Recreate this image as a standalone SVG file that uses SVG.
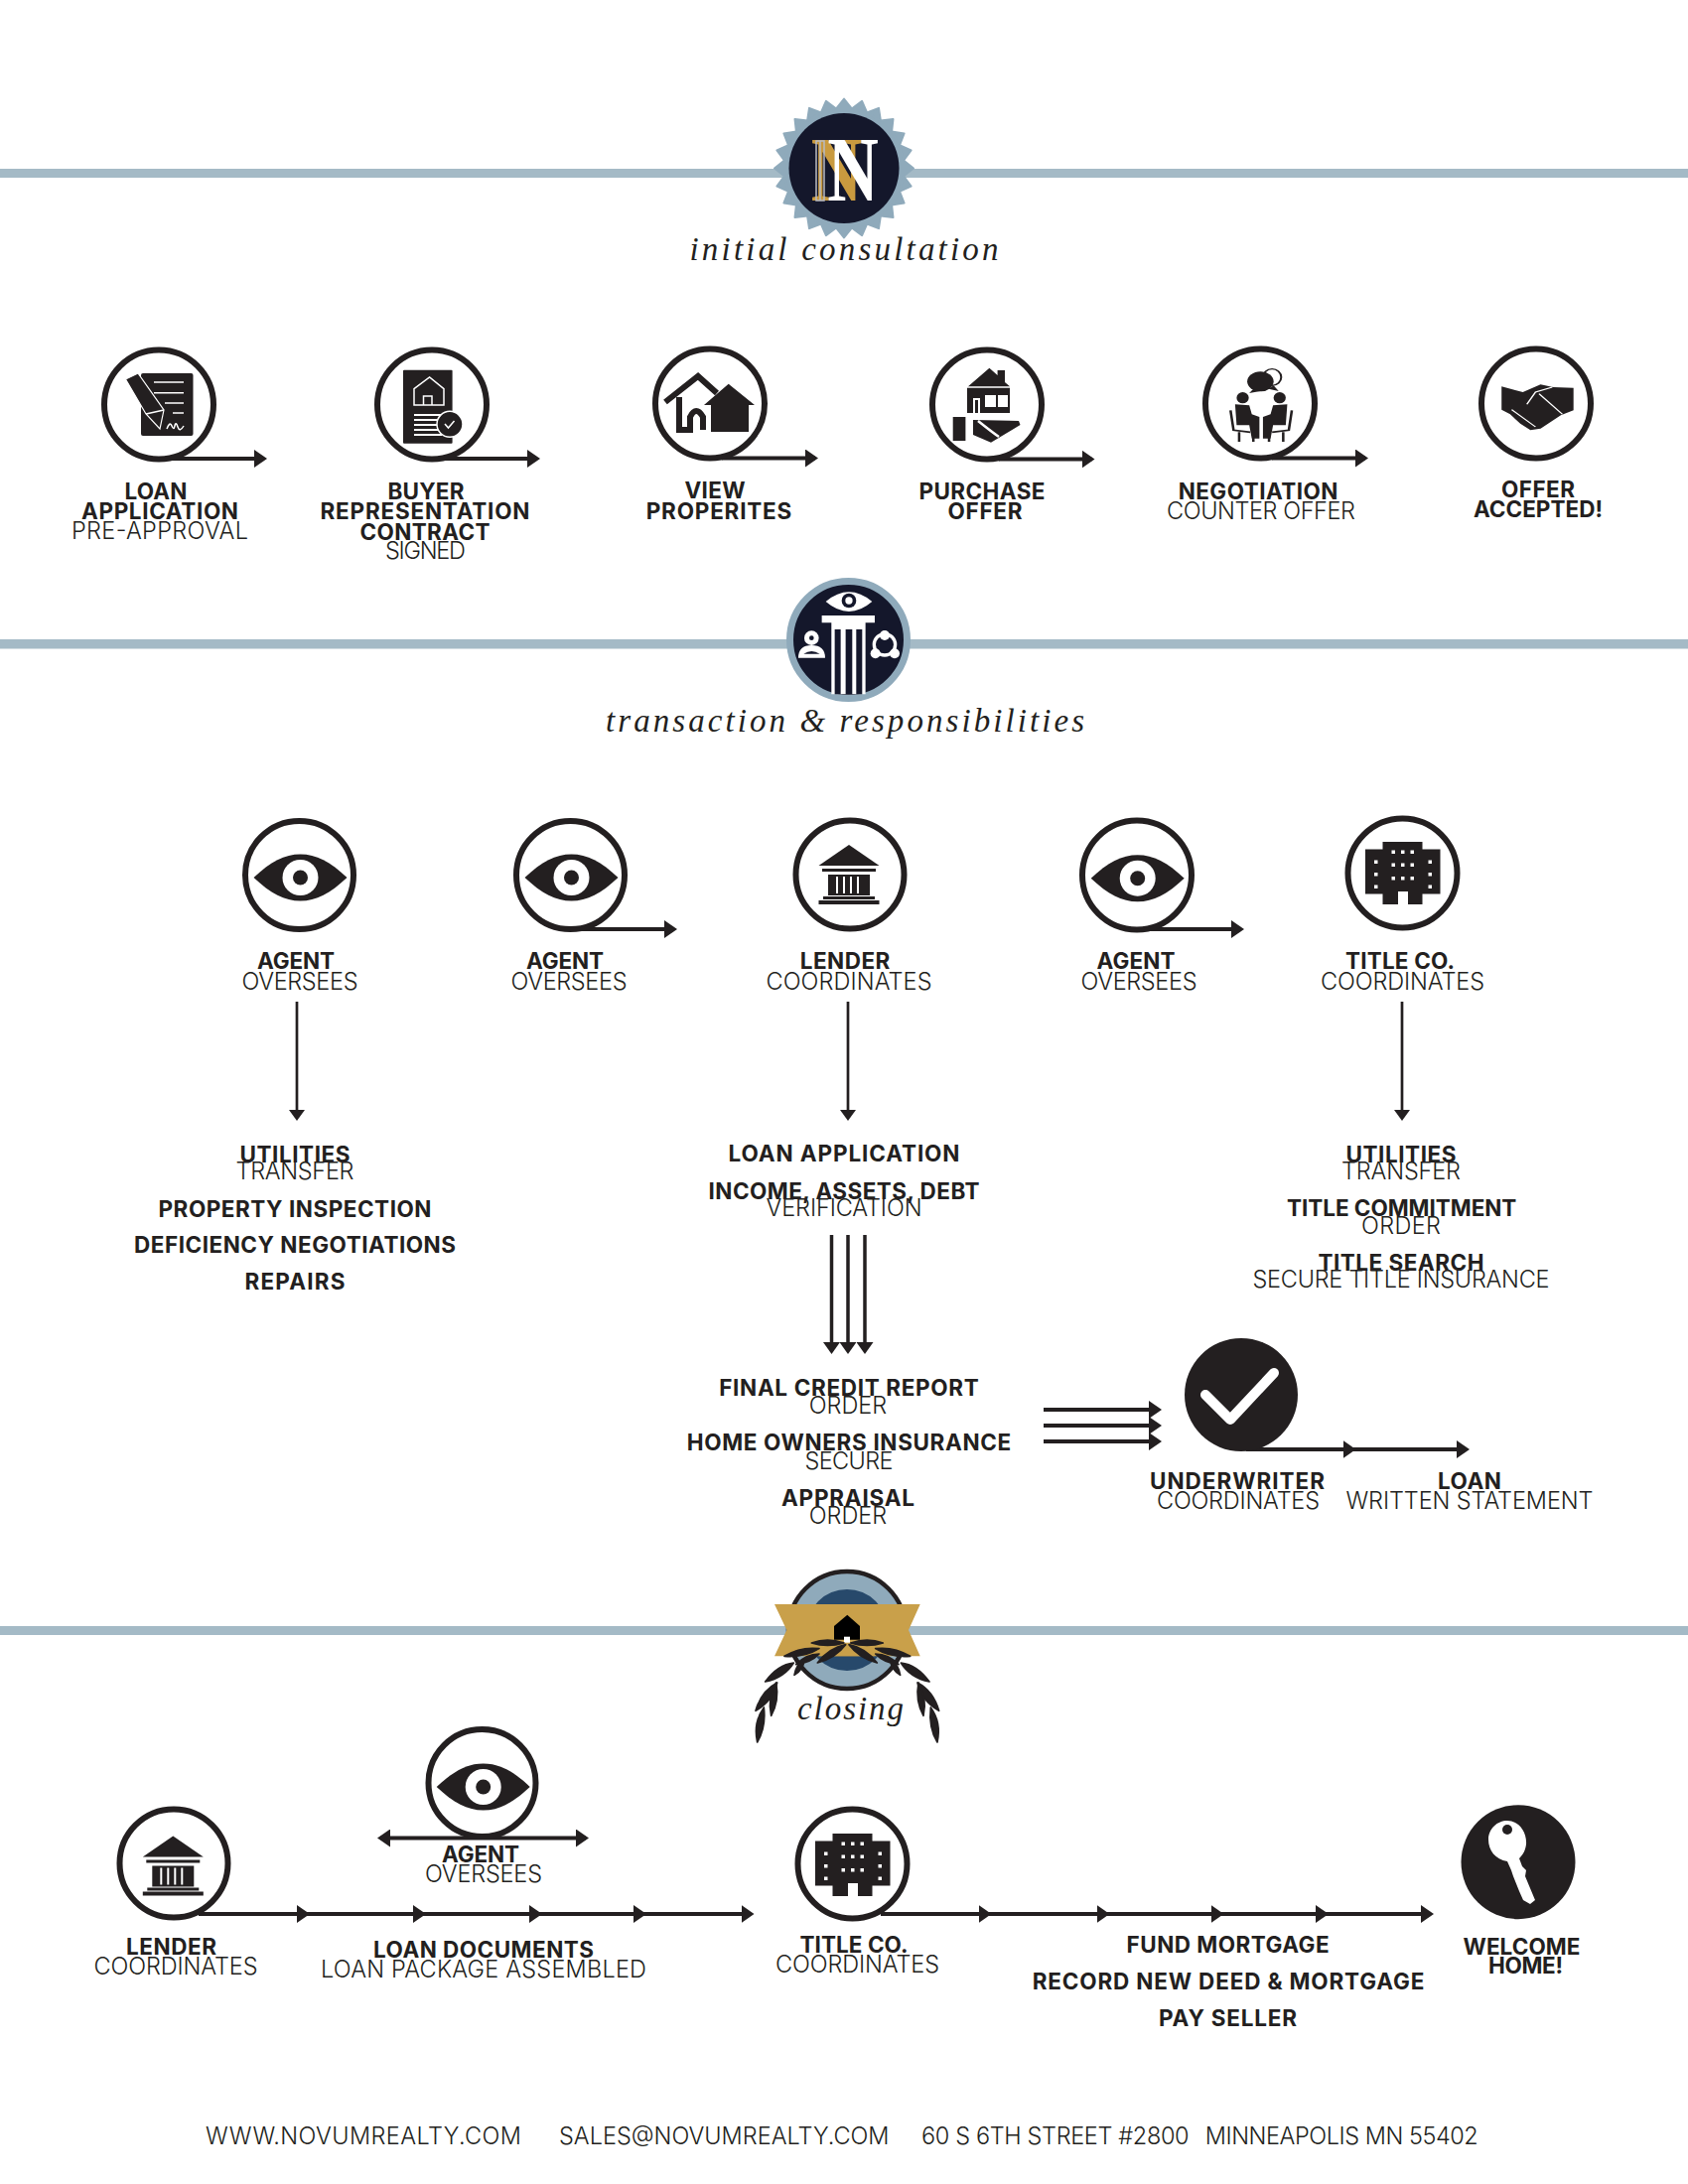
<svg xmlns="http://www.w3.org/2000/svg" xmlns:xlink="http://www.w3.org/1999/xlink" width="1700" height="2200" viewBox="0 0 1700 2200">
<style>
text{fill:#231f20;text-anchor:middle}
.b{font:700 22.500px Inter,"Liberation Sans",sans-serif}
.l{font:300 23.500px Inter,"Liberation Sans",sans-serif}
.f{font:300 23.500px Inter,"Liberation Sans",sans-serif;text-anchor:start}
.s{font:italic 400 33px "Liberation Serif",serif}
.rule{fill:#a4bac6}
.ring{fill:#fff;stroke:#231f20;stroke-width:6}
.d{fill:#231f20}
.w{fill:#fff}
.wl{fill:none;stroke:#fff;stroke-width:1.5}
.c line{stroke:#231f20;stroke-width:4;marker-end:url(#ah)}
.c line.t{stroke-width:2.700;marker-end:url(#ahs)}
.c line.m{stroke-width:3.500;marker-end:url(#ahm)}
</style>
<defs>
<marker id="ah" markerUnits="userSpaceOnUse" markerWidth="13" markerHeight="18" refX="10" refY="9" orient="auto-start-reverse"><path d="M0 0L13 9L0 18Z" fill="#231f20"/></marker>
<marker id="ahs" markerUnits="userSpaceOnUse" markerWidth="11" markerHeight="16" refX="8" refY="8" orient="auto"><path d="M0 0L11 8L0 16Z" fill="#231f20"/></marker>
<marker id="ahm" markerUnits="userSpaceOnUse" markerWidth="12" markerHeight="17" refX="9" refY="8.500" orient="auto"><path d="M0 0L12 8.500L0 17Z" fill="#231f20"/></marker>
<g id="eye"><path class="d" d="M-47 0C-30 -16 -16 -23.500 0 -23.500C16 -23.500 30 -16 47 0C30 16 16 23.500 0 23.500C-16 23.500 -30 16 -47 0Z"/><circle class="w" r="18"/><circle class="d" r="7.500"/></g>
<g id="bank"><path class="d" d="M0 -30L30.500 -9H-30.500Z"/><rect class="d" x="-27" y="-6" width="54" height="3"/><rect class="d" x="-21" y="0" width="42" height="21"/><g class="w"><rect x="-13" y="2" width="2" height="17"/><rect x="-6" y="2" width="2" height="17"/><rect x="1" y="2" width="2" height="17"/><rect x="8" y="2" width="2" height="17"/></g><rect class="d" x="-26" y="22" width="52" height="3"/><rect class="d" x="-30.500" y="26" width="61" height="4"/></g>
<g id="bldg"><path class="d" d="M-37.500 -24H-20V-31.500H20V-24H38V21H20V31.500H5.500V18.500H-4.500V31.500H-20V21H-37.500Z"/><g class="w"><rect x="-11" y="-23" width="3.500" height="3.500"/><rect x="-1.500" y="-23" width="3.500" height="3.500"/><rect x="8" y="-23" width="3.500" height="3.500"/><rect x="-11" y="-10" width="3.500" height="3.500"/><rect x="-1.500" y="-10" width="3.500" height="3.500"/><rect x="8" y="-10" width="3.500" height="3.500"/><rect x="-11" y="3.500" width="3.500" height="3.500"/><rect x="-1.500" y="3.500" width="3.500" height="3.500"/><rect x="8" y="3.500" width="3.500" height="3.500"/><rect x="-28.500" y="-13" width="3.500" height="3.500"/><rect x="-28.500" y="-.5" width="3.500" height="3.500"/><rect x="-28.500" y="12" width="3.500" height="3.500"/><rect x="26" y="-13" width="3.500" height="3.500"/><rect x="26" y="-.5" width="3.500" height="3.500"/><rect x="26" y="12" width="3.500" height="3.500"/></g></g>
<g id="t4"><polygon points="-8,-60 0,-70 8,-60" fill="#8faabb" stroke="#8faabb" stroke-width="2" stroke-linejoin="round"/><polygon transform="rotate(15)" points="-8,-60 0,-70 8,-60" fill="#8faabb" stroke="#8faabb" stroke-width="2" stroke-linejoin="round"/><polygon transform="rotate(30)" points="-8,-60 0,-70 8,-60" fill="#8faabb" stroke="#8faabb" stroke-width="2" stroke-linejoin="round"/><polygon transform="rotate(45)" points="-8,-60 0,-70 8,-60" fill="#8faabb" stroke="#8faabb" stroke-width="2" stroke-linejoin="round"/></g>
<g id="laurel" fill="#231f20" stroke="#231f20" stroke-width="5" stroke-linejoin="round"><path d="M262 285Q310 268 360 285Q310 300 262 285Z"/><path d="M280 345Q315 300 365 290Q335 330 280 345Z"/><path d="M180 325Q230 295 285 302Q240 330 180 325Z"/><path d="M215 350Q245 318 285 318Q260 345 215 350Z"/><path d="M122 402Q160 350 208 345Q180 390 122 402Z"/><path d="M210 382Q215 350 240 335Q238 365 210 382Z"/><path d="M93 490Q110 430 158 405Q145 460 93 490Z"/><path d="M140 505Q128 450 155 405Q165 460 140 505Z"/><path d="M98 585Q85 525 118 480Q125 540 98 585Z"/></g>
</defs>
<rect width="1700" height="2200" fill="#fff"/>

<g id="rules"><rect class="rule" x="0" y="170" width="1700" height="9"/><rect class="rule" x="0" y="644" width="1700" height="9.500"/><rect class="rule" x="0" y="1638" width="1700" height="9"/></g>

<g id="connectors" class="c">
<line x1="172" y1="462" x2="266" y2="462"/><line x1="447" y1="462" x2="541" y2="462"/><line x1="727" y1="461.500" x2="821" y2="461.500"/><line x1="1006" y1="462.500" x2="1099.500" y2="462.500"/><line x1="1281" y1="461.500" x2="1375" y2="461.500"/>
<line x1="586" y1="936" x2="679" y2="936"/><line x1="1157" y1="936" x2="1250" y2="936"/>
<line class="t" x1="299" y1="1009" x2="299" y2="1126"/><line class="t" x1="854" y1="1009" x2="854" y2="1126"/><line class="t" x1="1412" y1="1009" x2="1412" y2="1126"/>
<line class="m" x1="837.500" y1="1244" x2="837.500" y2="1361"/><line class="m" x1="854" y1="1244" x2="854" y2="1361"/><line class="m" x1="871" y1="1244" x2="871" y2="1361"/>
<line x1="1051" y1="1420" x2="1167" y2="1420"/><line x1="1051" y1="1436" x2="1167" y2="1436"/><line x1="1051" y1="1452" x2="1167" y2="1452"/>
<line x1="1255" y1="1460" x2="1362.500" y2="1460"/><line x1="1362.500" y1="1460" x2="1477" y2="1460"/>
<line x1="200" y1="1928" x2="309" y2="1928"/><line x1="309" y1="1928" x2="426" y2="1928"/><line x1="426" y1="1928" x2="543" y2="1928"/><line x1="543" y1="1928" x2="648" y2="1928"/><line x1="648" y1="1928" x2="756.500" y2="1928"/>
<line x1="887" y1="1928" x2="995.500" y2="1928"/><line x1="995.500" y1="1928" x2="1114.500" y2="1928"/><line x1="1114.500" y1="1928" x2="1229.500" y2="1928"/><line x1="1229.500" y1="1928" x2="1335" y2="1928"/><line x1="1335" y1="1928" x2="1441" y2="1928"/>
<line x1="383" y1="1851.500" x2="590" y2="1851.500" style="marker-start:url(#ah)"/>
</g>

<g id="section-initial">
<g transform="translate(850 169.500)"><circle r="61" fill="#8faabb"/><use href="#t4"/><use href="#t4" transform="rotate(60)"/><use href="#t4" transform="rotate(120)"/><use href="#t4" transform="rotate(180)"/><use href="#t4" transform="rotate(240)"/><use href="#t4" transform="rotate(300)"/><circle r="55.500" fill="#14172b"/></g>
<text transform="translate(842.500 201.500) scale(.76 1)" font-size="94" font-weight="700" style="fill:#c99a3f" font-family="'Liberation Serif',serif">N</text>
<path d="M822 142h8v60h-8zM826 142v60" fill="none" stroke="#b9bcc4" stroke-width="1.500"/>
<text transform="translate(859 201.500) scale(.76 1)" font-size="94" font-weight="700" style="fill:#fff" font-family="'Liberation Serif',serif">N</text>
<text class="s" x="850" y="262" textLength="311">initial consultation</text>
</g>

<g id="node-loan">
<circle class="ring" cx="160" cy="407.500" r="55"/>
<rect class="d" x="142" y="376" width="52.500" height="63" rx="2"/>
<path class="wl" d="M155 385H185M155 395.700H185M166 406H185M174 416H185M168 432q3 -8 5 -3t3 0 3 1 6 -1"/>
<path class="d" stroke="#fff" stroke-width="1.200" d="M126.500 382L139 376L165 413L161 432L147 417Z"/>
<path class="wl" d="M147 417L165 413"/>
<text class="b" x="157" y="503" textLength="63">LOAN</text><text class="b" x="161" y="523" textLength="158">APPLICATION</text><text class="l" x="161" y="543" textLength="178">PRE-APPROVAL</text>
</g>
<g id="node-buyer">
<circle class="ring" cx="435" cy="407.500" r="55"/>
<rect class="d" x="406" y="372.700" width="49.600" height="74" rx="1"/>
<path class="wl" d="M417 391.700L432.600 380L447 391.700V408H417ZM426.500 408V399H435V408"/>
<path stroke="#fff" stroke-width="2" d="M417 418H445M417 423H445M417 428H445M417 433H445M417 438H445"/>
<circle cx="453" cy="427.300" r="13" fill="#231f20" stroke="#fff" stroke-width="1.500"/>
<path class="wl" d="M448 427l3.500 4 6 -7"/>
<text class="b" x="429" y="503" textLength="77">BUYER</text><text class="b" x="428" y="523" textLength="211">REPRESENTATION</text><text class="b" x="428" y="544" textLength="131">CONTRACT</text><text class="l" x="428.500" y="563" textLength="81">SIGNED</text>
</g>
<g id="node-view">
<circle class="ring" cx="715" cy="406.500" r="55"/>
<path d="M670 405L703 379L722 396M684 400V433H695V420Q701 408 708 420V433" fill="none" stroke="#231f20" stroke-width="6"/>
<path class="d" d="M733.700 386.700L760 408H754V435H716V408H709Z"/>
<text class="b" x="720" y="502" textLength="61">VIEW</text><text class="b" x="724" y="522.500" textLength="146.500">PROPERITES</text>
</g>
<g id="node-purchase">
<circle class="ring" cx="994" cy="407.500" r="55"/>
<path class="d" d="M996.400 370.700L1004.600 378V373H1012V385L1017 389.300H975ZM974 390.700H1017V416H974Z"/>
<path class="w" d="M992 398H1003V410H992ZM1005 398H1015V410H1005ZM980 401H987V416H980Z"/><rect class="d" x="982" y="403" width="3" height="13"/>
<rect class="d" x="959.700" y="420" width="12.700" height="24"/>
<path class="d" d="M980 423L1026 424L1027.500 428L998 445.700L980 438Z"/>
<path d="M985 424Q1000 436 1006 440" fill="none" stroke="#fff" stroke-width="2.500"/>
<text class="b" x="989" y="503" textLength="127">PURCHASE</text><text class="b" x="992" y="522.500" textLength="75">OFFER</text>
</g>
<g id="node-negotiation">
<circle class="ring" cx="1269" cy="406.500" r="55"/>
<g transform="translate(850 330) scale(.5102 .3333)">
<ellipse cx="845" cy="150" rx="18" ry="25" fill="none" stroke="#231f20" stroke-width="4"/>
<path class="d" d="M848 175L858 192L838 185Z"/>
<ellipse class="d" cx="822" cy="163" rx="26" ry="30"/><path class="d" d="M808 185L800 198L822 192Z"/>
<g id="sitter"><ellipse class="d" cx="787" cy="212" rx="12" ry="17"/><path class="d" d="M772 232L800 235L805 262L820 270L820 335L805 335L800 295L775 295Z"/><path d="M763 250L769 310L802 316M780 316V345M808 316V345" fill="none" stroke="#231f20" stroke-width="5"/></g>
<use href="#sitter" transform="translate(1647 0) scale(-1 1)"/>
</g>
<text class="b" x="1267" y="503" textLength="160.700">NEGOTIATION</text><text class="l" x="1270" y="522.500" textLength="190">COUNTER OFFER</text>
</g>
<g id="node-accepted">
<circle class="ring" cx="1547" cy="406.500" r="55"/>
<g transform="translate(850 330) scale(.5102 .3333)">
<path class="d" d="M1298 178L1340 195L1375 172L1400 180L1440 182V250L1415 265L1375 305L1355 310L1335 290L1315 262L1298 248Z"/>
<path d="M1348 232L1365 195L1398 180M1372 200L1418 262M1318 248L1365 300" fill="none" stroke="#fff" stroke-width="3"/>
</g>
<text class="b" x="1549" y="501" textLength="74">OFFER</text><text class="b" x="1549" y="520.500" textLength="130">ACCEPTED!</text>
</g>

<g id="section-transaction">
<circle cx="854.500" cy="644.500" r="59" fill="#14172b" stroke="#8faabb" stroke-width="7"/>
<g transform="translate(600 570) scale(.3333)">
<path class="w" d="M695 108Q765 50 835 108Q765 168 695 108Z"/><circle cx="765" cy="105" r="22" fill="#14172b"/><circle class="w" cx="765" cy="105" r="11"/>
<path class="w" d="M683 150H843V172H815V388H712V172H683Z"/>
<g fill="#14172b"><rect x="722" y="192" width="18" height="196"/><rect x="755" y="192" width="20" height="196"/><rect x="787" y="192" width="18" height="196"/></g>
<circle class="w" cx="652" cy="218" r="22"/><circle cx="652" cy="218" r="7" fill="#14172b"/>
<path class="w" d="M612 278Q612 240 652 240Q693 240 693 278Z"/><path fill="#14172b" d="M628 266Q652 250 677 266Z"/>
<circle cx="873" cy="238" r="32" fill="none" stroke="#fff" stroke-width="10"/><circle class="w" cx="873" cy="210" r="15"/><circle class="w" cx="845" cy="265" r="15"/><circle class="w" cx="903" cy="265" r="15"/>
</g>
<text class="s" x="851" y="737" textLength="482">transaction &amp; responsibilities</text>
</g>

<g id="node-agent-1"><circle class="ring" cx="301.500" cy="881.500" r="54.500"/><use href="#eye" x="302.500" y="884"/><text class="b" x="298" y="975.700" textLength="78">AGENT</text><text class="l" x="302" y="996.500" textLength="117">OVERSEES</text></g>
<g id="node-agent-2"><circle class="ring" cx="574.500" cy="881.500" r="54.500"/><use href="#eye" x="575.500" y="884"/><text class="b" x="569" y="975.700" textLength="78">AGENT</text><text class="l" x="573" y="996.500" textLength="117">OVERSEES</text></g>
<g id="node-lender-1"><circle class="ring" cx="856" cy="881" r="54.500"/><use href="#bank" x="855" y="881"/><text class="b" x="851" y="975.700" textLength="90.600">LENDER</text><text class="l" x="855" y="996.500" textLength="167">COORDINATES</text></g>
<g id="node-agent-3"><circle class="ring" cx="1145" cy="881.500" r="55"/><use href="#eye" x="1145.700" y="884.700"/><text class="b" x="1144" y="975.700" textLength="79">AGENT</text><text class="l" x="1147" y="996.500" textLength="117">OVERSEES</text></g>
<g id="node-title-1"><circle class="ring" cx="1412.500" cy="879.500" r="55"/><use href="#bldg" x="1412.500" y="879.500"/><text class="b" x="1410" y="975.700" textLength="110">TITLE CO.</text><text class="l" x="1412.500" y="996.500" textLength="165">COORDINATES</text></g>

<g id="list-agent">
<text class="b" x="297" y="1171" textLength="111">UTILITIES</text><text class="l" x="297" y="1188" textLength="119">TRANSFER</text>
<text class="b" x="297" y="1226" textLength="275">PROPERTY INSPECTION</text><text class="b" x="297" y="1262" textLength="324">DEFICIENCY NEGOTIATIONS</text><text class="b" x="297" y="1299" textLength="101">REPAIRS</text>
</g>
<g id="list-lender">
<text class="b" x="850" y="1170" textLength="233">LOAN APPLICATION</text><text class="b" x="850" y="1207.500" textLength="273">INCOME, ASSETS, DEBT</text><text class="l" x="850" y="1224.500" textLength="157">VERIFICATION</text>
<text class="b" x="855" y="1406" textLength="261.500">FINAL CREDIT REPORT</text><text class="l" x="854" y="1424" textLength="78.400">ORDER</text>
<text class="b" x="855" y="1460.700" textLength="326.500">HOME OWNERS INSURANCE</text><text class="l" x="855" y="1480" textLength="89">SECURE</text>
<text class="b" x="854" y="1516.700" textLength="134">APPRAISAL</text><text class="l" x="854" y="1535" textLength="78.400">ORDER</text>
</g>
<g id="list-title">
<text class="b" x="1411" y="1171" textLength="111">UTILITIES</text><text class="l" x="1411" y="1188" textLength="120">TRANSFER</text>
<text class="b" x="1411.700" y="1224.500" textLength="231.400">TITLE COMMITMENT</text><text class="l" x="1411" y="1243" textLength="80">ORDER</text>
<text class="b" x="1411" y="1280" textLength="167">TITLE SEARCH</text><text class="l" x="1411" y="1297" textLength="299">SECURE TITLE INSURANCE</text>
</g>

<g id="node-underwriter">
<circle class="d" cx="1250" cy="1405" r="57"/>
<path d="M1214 1405L1239 1430L1283 1383" fill="none" stroke="#fff" stroke-width="10" stroke-linecap="round" stroke-linejoin="round"/>
<text class="b" x="1246" y="1500" textLength="176">UNDERWRITER</text><text class="l" x="1247" y="1520" textLength="164">COORDINATES</text>
</g>
<g id="node-loan-statement"><text class="b" x="1480" y="1500" textLength="64">LOAN</text><text class="l" x="1480" y="1520" textLength="249">WRITTEN STATEMENT</text></g>

<g id="section-closing">
<circle cx="853" cy="1642" r="59" fill="#8faabb" stroke="#231f20" stroke-width="4.500"/>
<circle cx="853" cy="1642" r="41" fill="#27496b"/>
<polygon points="780,1616 926.700,1616 915,1642 926.700,1668.300 780,1668.300 792.300,1642" fill="#c9a04a"/>
<path d="M853.300 1626.700L866 1638V1651.700H840V1638Z" fill="#000"/><rect class="w" x="850" y="1648.700" width="6" height="6"/>
<path d="M825 1668.300L853 1655L881 1668.300Z" fill="#c9a04a"/>
<g transform="translate(730 1560) scale(.3333)"><use href="#laurel"/><use href="#laurel" transform="translate(740 0) scale(-1 1)"/></g>
<text class="s" x="856.500" y="1732" textLength="107">closing</text>
</g>

<g id="node-lender-2"><circle class="ring" cx="175" cy="1877" r="54.500"/><use href="#bank" x="174.300" y="1879.500"/><text class="b" x="172.500" y="1969" textLength="91">LENDER</text><text class="l" x="177" y="1989" textLength="165">COORDINATES</text></g>
<g id="node-agent-4"><circle class="ring" cx="485.500" cy="1796" r="54"/><use href="#eye" x="486.700" y="1800"/><text class="b" x="484" y="1875.700" textLength="78">AGENT</text><text class="l" x="487" y="1896" textLength="118">OVERSEES</text></g>
<g id="node-loan-docs"><text class="b" x="487" y="1971.700" textLength="222">LOAN DOCUMENTS</text><text class="l" x="487" y="1991.700" textLength="328">LOAN PACKAGE ASSEMBLED</text></g>
<g id="node-title-2"><circle class="ring" cx="858.500" cy="1877.500" r="55"/><use href="#bldg" x="858.500" y="1878.500"/><text class="b" x="860" y="1967" textLength="109">TITLE CO.</text><text class="l" x="863.500" y="1987" textLength="165">COORDINATES</text></g>
<g id="list-closing"><text class="b" x="1236.600" y="1966.700" textLength="204">FUND MORTGAGE</text><text class="b" x="1237" y="2004" textLength="394.700">RECORD NEW DEED &amp; MORTGAGE</text><text class="b" x="1236.600" y="2040.700" textLength="139">PAY SELLER</text></g>
<g id="node-home">
<circle class="d" cx="1529" cy="1875.700" r="57.500"/>
<path class="w" d="M1518 1834C1530 1834 1538 1846 1537 1858C1536 1866 1532 1870 1530 1872L1533 1880L1537 1884L1536 1890L1546 1914L1541 1918L1534 1914L1530 1905L1524 1890L1522 1884L1518 1875C1506 1873 1499 1864 1499 1853C1499 1842 1508 1834 1518 1834Z"/>
<circle class="d" cx="1518" cy="1843" r="5"/>
<text class="b" x="1532.500" y="1969" textLength="118">WELCOME</text><text class="b" x="1536.500" y="1988" textLength="75">HOME!</text>
</g>

<g id="footer"><text class="f" x="207" y="2160" textLength="318">WWW.NOVUMREALTY.COM</text><text class="f" x="563" y="2160" textLength="332.500">SALES@NOVUMREALTY.COM</text><text class="f" x="928" y="2160" textLength="269.600">60 S 6TH STREET #2800</text><text class="f" x="1213.800" y="2160" textLength="275">MINNEAPOLIS MN 55402</text></g>
</svg>
